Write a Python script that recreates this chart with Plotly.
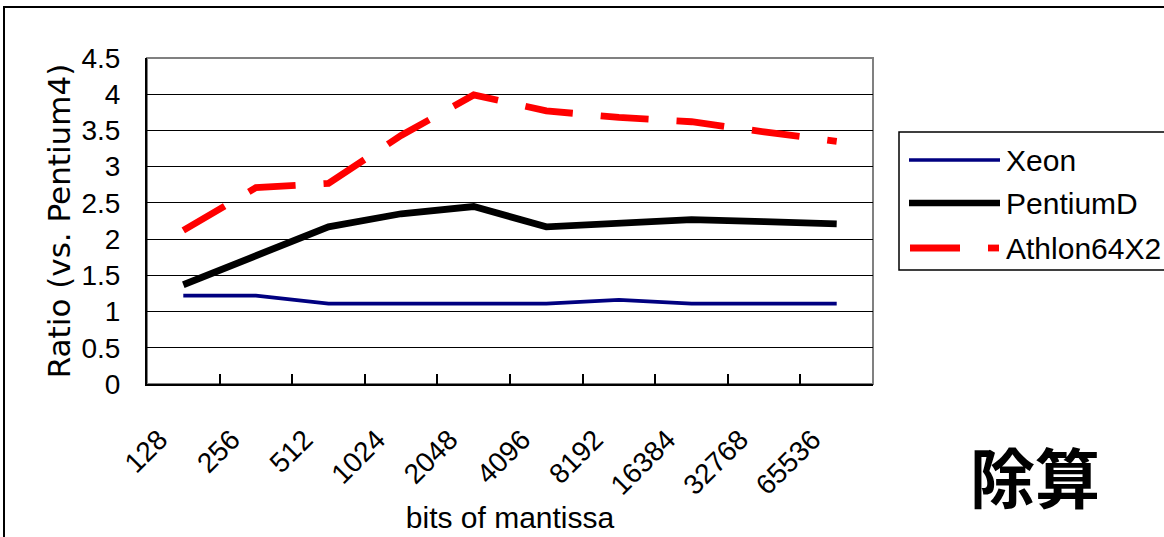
import plotly.graph_objects as go

categories = ["128", "256", "512", "1024", "2048", "4096", "8192", "16384", "32768", "65536"]
xeon = [1.22, 1.22, 1.11, 1.11, 1.11, 1.11, 1.16, 1.11, 1.11, 1.11]
pentiumd = [1.37, 1.78, 2.17, 2.35, 2.45, 2.17, 2.21, 2.27, 2.24, 2.21]
athlon = [2.12, 2.71, 2.77, 3.43, 3.99, 3.77, 3.68, 3.62, 3.48, 3.35]
series_names = ["Xeon", "PentiumD", "Athlon64X2"]
y_ticks = [0, 0.5, 1, 1.5, 2, 2.5, 3, 3.5, 4, 4.5]
y_ticktext = ["0", "0.5", "1", "1.5", "2", "2.5", "3", "3.5", "4", "4.5"]

FONT = "Liberation Sans, Arial, sans-serif"
W, H = 1164, 537
L, R, T, B = 147, 291, 58, 153
PW, PH = W - L - R, H - T - B

def px_x(p):
    return (p - L) / PW

def px_y(p):
    return (H - B - p) / PH

styles = [
    dict(color="#000080", width=3.8, dash="solid"),
    dict(color="#000000", width=6.8, dash="solid"),
    dict(color="#FF0000", width=6.8, dash="48px,28px"),
]

fig = go.Figure()
for name, vals, st in zip(series_names, [xeon, pentiumd, athlon], styles):
    fig.add_trace(go.Scatter(x=categories, y=vals, mode="lines", name=name,
                             line=dict(color=st["color"], width=st["width"], dash=st["dash"]),
                             showlegend=False))

shapes = []
# plot-area frame (grey)
shapes.append(dict(type="rect", xref="paper", yref="paper", x0=0, x1=1, y0=0, y1=1,
                   line=dict(color="#808080", width=2), layer="below"))
# outer chart border
shapes.append(dict(type="rect", xref="paper", yref="paper",
                   x0=px_x(4), x1=px_x(1175), y0=px_y(548), y1=px_y(7),
                   line=dict(color="#000000", width=2)))
# legend box
shapes.append(dict(type="rect", xref="paper", yref="paper",
                   x0=px_x(899), x1=px_x(1175), y0=px_y(270), y1=px_y(132),
                   line=dict(color="#000000", width=1.5), fillcolor="white"))
annotations = []
leg_y = [160, 203, 248]
for name, st, yy in zip(series_names, styles, leg_y):
    if st["dash"] == "solid":
        shapes.append(dict(type="line", xref="paper", yref="paper",
                           x0=px_x(909), x1=px_x(1000), y0=px_y(yy), y1=px_y(yy),
                           line=dict(color=st["color"], width=st["width"] - 0.5)))
    else:
        shapes.append(dict(type="line", xref="paper", yref="paper",
                           x0=px_x(910), x1=px_x(960), y0=px_y(yy), y1=px_y(yy),
                           line=dict(color=st["color"], width=st["width"])))
        shapes.append(dict(type="line", xref="paper", yref="paper",
                           x0=px_x(988), x1=px_x(999), y0=px_y(yy), y1=px_y(yy),
                           line=dict(color=st["color"], width=st["width"])))
    annotations.append(dict(text=name, xref="paper", yref="paper", x=px_x(1004), y=px_y(yy),
                            xanchor="left", yanchor="middle", showarrow=False,
                            font=dict(family=FONT, size=30, color="black")))

annotations.append(dict(text="<b>除算</b>", xref="paper", yref="paper", x=px_x(1035), y=px_y(475),
                        xanchor="center", yanchor="middle", showarrow=False,
                        font=dict(family="Noto Sans CJK JP", size=65, color="black")))

fig.update_layout(
    width=W, height=H, autosize=False,
    margin=dict(l=L, r=R, t=T, b=B),
    paper_bgcolor="white", plot_bgcolor="white",
    font=dict(family=FONT, size=28, color="black"),
    shapes=shapes, annotations=annotations,
    xaxis=dict(type="category", range=[-0.5, len(categories) - 0.5],
               tickson="boundaries", ticks="inside", ticklen=10,
               tickcolor="black", tickwidth=1.5, tickangle=-45,
               showline=True, linecolor="black", linewidth=2, showgrid=False,
               ticklabelshift=-24, ticklabelstandoff=26,
               tickfont=dict(family=FONT, size=28),
               title=dict(text="bits of mantissa", font=dict(family=FONT, size=30), standoff=7),
               automargin=False),
    yaxis=dict(range=[0, 4.5], tickvals=y_ticks, ticktext=y_ticktext,
               showgrid=True, gridcolor="black", gridwidth=1,
               showline=True, linecolor="black", linewidth=2, ticks="",
               ticklabelstandoff=19, zeroline=False,
               tickfont=dict(family=FONT, size=28),
               title=dict(text="Ratio (vs. Pentium4)",
                          font=dict(family="DejaVu Sans, sans-serif", size=31), standoff=2),
               automargin=False),
)

fig.write_html("out.html")
